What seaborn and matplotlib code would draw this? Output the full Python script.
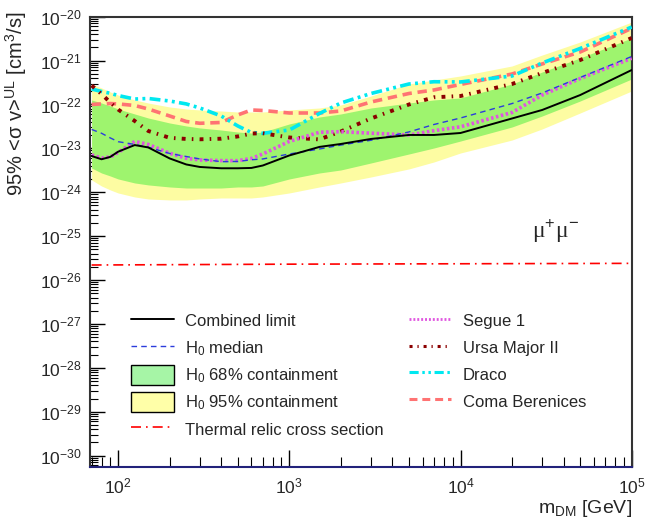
import numpy as np
import pandas as pd
import matplotlib
matplotlib.use("Agg")
import matplotlib.pyplot as plt
import seaborn as sns
from matplotlib.lines import Line2D
from matplotlib.patches import Patch
from matplotlib.ticker import LogLocator, NullFormatter, FixedLocator

# ---------------- data ----------------
mass = [70, 80, 90, 100, 125, 150, 200, 250, 300, 400, 500, 600, 700,
        1000, 1500, 2000, 3000, 5000, 7000, 10000, 20000, 30000, 50000, 100000]

combined = [6.7e-24, 5.65e-24, 6.4e-24, 8.4e-24, 1.19e-23, 1.05e-23, 5.9e-24, 4.3e-24,
            3.77e-24, 3.52e-24, 3.52e-24, 3.58e-24, 4.07e-24, 6.9e-24, 1.08e-23, 1.26e-23,
            1.64e-23, 2.02e-23, 2.02e-23, 2.24e-23, 4.8e-23, 7.5e-23, 1.64e-22, 6.1e-22]

median = [2.70e-23, 2.21e-23, 1.73e-23, 1.42e-23, 1.23e-23, 1.06e-23, 7.66e-24, 6.53e-24,
          5.74e-24, 4.98e-24, 5.04e-24, 5.5e-24, 5.74e-24, 7.45e-24, 9.68e-24, 1.19e-23,
          1.53e-23, 2.37e-23, 3.5e-23, 4.92e-23, 1.05e-22, 1.83e-22, 4.12e-22, 1.24e-21]

segue1 = [7.08e-24, 6.04e-24, 6.37e-24, 8.07e-24, 1.44e-23, 1.23e-23, 7.73e-24, 5.94e-24,
          5.45e-24, 5.27e-24, 5.25e-24, 5.89e-24, 7.45e-24, 1.44e-23, 2.33e-23, 2.4e-23,
          2.22e-23, 2.02e-23, 2.53e-23, 3.1e-23, 6.58e-23, 1.64e-22, 3.91e-22, 1.13e-21]

ursa_major2 = [2.71e-22, 1.73e-22, 1.11e-22, 7.69e-23, 4.21e-23, 2.49e-23, 1.74e-23, 1.64e-23,
               1.61e-23, 1.66e-23, 1.87e-23, 2.18e-23, 2.21e-23, 1.77e-23, 1.6e-23, 2.43e-23,
               4.8e-23, 1.0e-22, 1.46e-22, 1.56e-22, 2.93e-22, 5.22e-22, 1.03e-21, 3.27e-21]

draco = [2.25e-22, 1.98e-22, 1.80e-22, 1.60e-22, 1.33e-22, 1.37e-22, 1.2e-22, 1.03e-22,
         8.32e-23, 5.47e-23, 3.24e-23, 2.3e-23, 2.21e-23, 2.62e-23, 6.24e-23, 1.08e-22,
         1.78e-22, 2.93e-22, 3.3e-22, 3.26e-22, 4.46e-22, 8.81e-22, 1.89e-21, 5.82e-21]

coma_berenices = [1.0e-22, 1.03e-22, 1.05e-22, 1.03e-22, 9.48e-23, 7.89e-23, 5.47e-23, 4.1e-23,
                  3.73e-23, 3.89e-23, 5.77e-23, 7.5e-23, 7.3e-23, 6.4e-23, 6.4e-23, 7.11e-23,
                  1.14e-22, 1.78e-22, 2.14e-22, 2.86e-22, 4.95e-22, 8.38e-22, 1.57e-21, 5.44e-21]

band68_low = [3.57e-24, 2.75e-24, 2.35e-24, 2.01e-24, 1.63e-24, 1.47e-24, 1.32e-24, 1.25e-24,
              1.25e-24, 1.25e-24, 1.32e-24, 1.32e-24, 1.39e-24, 2.01e-24, 2.75e-24, 3.22e-24,
              4.65e-24, 7.45e-24, 1.02e-23, 1.47e-23, 3.07e-23, 5.47e-23, 1.2e-22, 3.81e-22]
band68_high = [1.27e-22, 1.08e-22, 9.25e-23, 7.89e-23, 6.08e-23, 4.92e-23, 3.79e-23, 3.24e-23,
               2.92e-23, 2.62e-23, 2.36e-23, 2.24e-23, 2.36e-23, 3.6e-23, 5.19e-23, 6.08e-23,
               8.32e-23, 1.08e-22, 1.27e-22, 1.41e-22, 2.93e-22, 5.5e-22, 1.15e-21, 3.27e-21]
band95_low = [1.91e-24, 1.39e-24, 1.13e-24, 9.64e-25, 7.82e-25, 7.03e-25, 6.68e-25, 6.68e-25,
              7.03e-25, 7.41e-25, 7.41e-25, 7.41e-25, 7.82e-25, 9.64e-25, 1.32e-24, 1.63e-24,
              2.23e-24, 3.4e-24, 4.9e-24, 7.85e-24, 1.55e-23, 2.77e-23, 6.4e-23, 2.03e-22]
band95_high = [2.93e-22, 2.38e-22, 1.93e-22, 1.64e-22, 1.27e-22, 1.08e-22, 8.77e-23, 7.89e-23,
               7.5e-23, 7.11e-23, 6.75e-23, 6.75e-23, 6.75e-23, 7.5e-23, 8.32e-23, 9.75e-23,
               1.56e-22, 2.93e-22, 3.61e-22, 4.46e-22, 7.54e-22, 1.34e-21, 2.65e-21, 7.57e-21]

thermal_mass = [70, 1000, 100000]
thermal_xsec = [2.2e-26, 2.3e-26, 2.4e-26]

x_major_ticks = [1e2, 1e3, 1e4, 1e5]
y_major_ticks = [1e-30, 1e-29, 1e-28, 1e-27, 1e-26, 1e-25, 1e-24, 1e-23, 1e-22, 1e-21, 1e-20]

legend_labels = ["Combined limit", "H$_{0}$ median", "H$_{0}$ 68% containment",
                 "H$_{0}$ 95% containment", "Thermal relic cross section",
                 "Segue 1", "Ursa Major II", "Draco", "Coma Berenices"]

# ---------------- style ----------------
sns.set_style("white")
plt.rcParams["font.family"] = ["Liberation Sans", "DejaVu Sans"]
plt.rcParams["mathtext.fontset"] = "custom"
plt.rcParams["mathtext.rm"] = "Liberation Sans"
plt.rcParams["mathtext.it"] = "Liberation Sans:italic"
plt.rcParams["mathtext.bf"] = "Liberation Sans:bold"

fig = plt.figure(figsize=(6.48, 5.24), dpi=100)
ax = fig.add_axes([90 / 648, 57 / 524, 541.7 / 648, 450.3 / 524])
ax.set_xscale("log")
ax.set_yscale("log")

c_green = "#9ef46e"
c_yellow = "#fdfca2"

ax.fill_between(mass, band95_low, band95_high, color=c_yellow, lw=0, zorder=1)
ax.fill_between(mass, band68_low, band68_high, color=c_green, lw=0, zorder=2)

series = [
    (thermal_mass, thermal_xsec, "#ff0000", (0, (6, 3, 1, 3)), 1.2),
    (mass, coma_berenices, "#ff7373", (0, (2.6, 1.6)), 2.6),
    (mass, draco, "#00e8f0", (0, (3, 1.2, 0.8, 1.2, 0.8, 1.2)), 2.6),
    (mass, ursa_major2, "#8b0000", (0, (1.0, 1.6, 0.4, 1.6)), 2.8),
    (mass, segue1, "#e055e0", (0, (0.7, 0.7)), 2.6),
    (mass, median, "#2b3cdc", (0, (4, 3)), 1.0),
    (mass, combined, "black", "-", 1.4),
]
for xs, ys, col, ls, lw in series:
    df = pd.DataFrame({"m": xs, "v": ys})
    sns.lineplot(data=df, x="m", y="v", ax=ax, color=col, linestyle=ls, lw=lw,
                 zorder=3, legend=False)

ax.set_xlim(68.5, 1e5)
ax.set_ylim(5.5e-31, 1e-20)

# ticks
ax.yaxis.set_major_locator(FixedLocator(y_major_ticks))
ax.yaxis.set_minor_locator(LogLocator(base=10, subs=np.arange(2, 10), numticks=20))
ax.yaxis.set_minor_formatter(NullFormatter())
ax.xaxis.set_major_locator(FixedLocator(x_major_ticks))
ax.xaxis.set_minor_locator(LogLocator(base=10, subs=np.arange(2, 10), numticks=10))
ax.xaxis.set_minor_formatter(NullFormatter())
ax.set_yticklabels([r"10$^{%d}$" % int(round(np.log10(t))) for t in y_major_ticks])
ax.set_xticklabels([r"10$^{%d}$" % int(round(np.log10(t))) for t in x_major_ticks])
ax.tick_params(axis="both", which="both", direction="in", labelsize=12.5,
               left=True, bottom=True, right=False, top=False, color="black")
ax.tick_params(axis="y", which="major", length=11, width=1.0, pad=6)
ax.tick_params(axis="y", which="minor", length=6, width=0.8)
ax.tick_params(axis="x", which="major", length=12, width=1.0, pad=7)
ax.tick_params(axis="x", which="minor", length=7, width=0.8)

for s in ["left", "right", "top"]:
    ax.spines[s].set_color("#333333")
    ax.spines[s].set_linewidth(1.5)
ax.spines["bottom"].set_color("#22227a")
ax.spines["bottom"].set_linewidth(1.5)

ax.set_xlabel(r"m$_{\mathrm{DM}}$ [GeV]", fontsize=14, loc="right")
ax.set_ylabel(r"95% <σ v>$^{\mathrm{UL}}$ [cm$^{3}$/s]", fontsize=14.5, loc="top")
ax.xaxis.set_label_coords(1.0, -0.068)
ax.yaxis.set_label_coords(-0.112, 1.012)

ax.text((555 - 90) / 541.7, 0.525, r"μ$^{+}$μ$^{-}$", transform=ax.transAxes, fontsize=17,
        family=["Liberation Serif", "DejaVu Serif"], ha="center", va="center")

handles = [
    Line2D([], [], color="black", lw=1.4, ls="-"),
    Line2D([], [], color="#2b3cdc", lw=1.0, ls=(0, (4, 3))),
    Patch(facecolor="#a6f5a6", edgecolor="black", lw=1.0),
    Patch(facecolor="#ffffa8", edgecolor="black", lw=1.0),
    Line2D([], [], color="#ff0000", lw=1.2, ls=(0, (6, 3, 1, 3))),
    Line2D([], [], color="#e055e0", lw=2.0, ls=(0, (0.7, 0.7))),
    Line2D([], [], color="#8b0000", lw=2.2, ls=(0, (1.0, 1.6, 0.4, 1.6))),
    Line2D([], [], color="#00e8f0", lw=2.2, ls=(0, (3, 1.2, 0.8, 1.2, 0.8, 1.2))),
    Line2D([], [], color="#ff7373", lw=2.2, ls=(0, (2.6, 1.6))),
]
leg = fig.legend(handles, legend_labels, loc="upper left",
                 bbox_to_anchor=(131 / 648, 1 - 311 / 524), bbox_transform=fig.transFigure,
                 ncol=2, frameon=False, fontsize=12, handlelength=2.55, handleheight=1.45,
                 handletextpad=0.7, labelspacing=0.42, columnspacing=1.5, borderpad=0,
                 borderaxespad=0)

fig.savefig("out.png", dpi=100)
